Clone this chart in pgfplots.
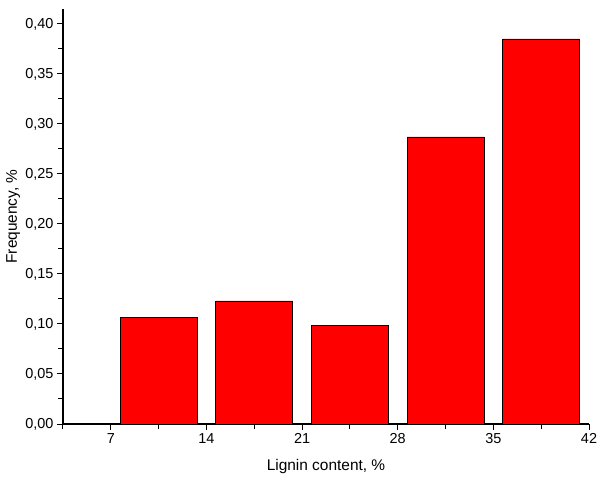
\documentclass[border=0pt]{standalone}
\usepackage{fontspec}
\setmainfont{Liberation Sans}
\usepackage{pgfplots}
\pgfplotsset{compat=1.18}
\begin{document}
\begin{tikzpicture}
\useasboundingbox (-63bp,-55bp) rectangle (536bp,424bp);
\begin{axis}[
  scale only axis, width=526bp, height=415bp,
  xmin=3.5, xmax=42, ymin=0, ymax=0.415,
  axis x line=bottom, axis y line=left,
  axis line style={-, line width=1.1bp},
  xtick={7,14,21,28,35,42},
  minor xtick={3.5,10.5,17.5,24.5,31.5,38.5},
  ytick={0,0.05,0.1,0.15,0.2,0.25,0.3,0.35,0.4},
  minor ytick={0.025,0.075,0.125,0.175,0.225,0.275,0.325,0.375},
  tick align=outside, major tick length=6bp, minor tick length=5bp,
  tick style={black, line width=1bp},
  tick label style={font=\fontsize{14.5}{16}\selectfont},
  label style={font=\fontsize{15.5}{17}\selectfont},
  yticklabel style={/pgf/number format/.cd, fixed, fixed zerofill, precision=2, use comma},
  /pgf/number format/assume math mode=true,
  xlabel={Lignin content, \%},
  ylabel={Frequency, \%},
  xlabel style={at={(axis description cs:0.5,0)}, anchor=center, yshift=-43bp},
  ylabel style={at={(axis description cs:0,0.5)}, anchor=center, yshift=50bp},
]
\addplot[ybar, bar width=5.64, fill=red, draw=black, line width=0.9bp]
  coordinates {(10.5,0.1067) (17.5,0.123) (24.5,0.0985) (31.5,0.287) (38.5,0.385)};
\end{axis}
\end{tikzpicture}
\end{document}
